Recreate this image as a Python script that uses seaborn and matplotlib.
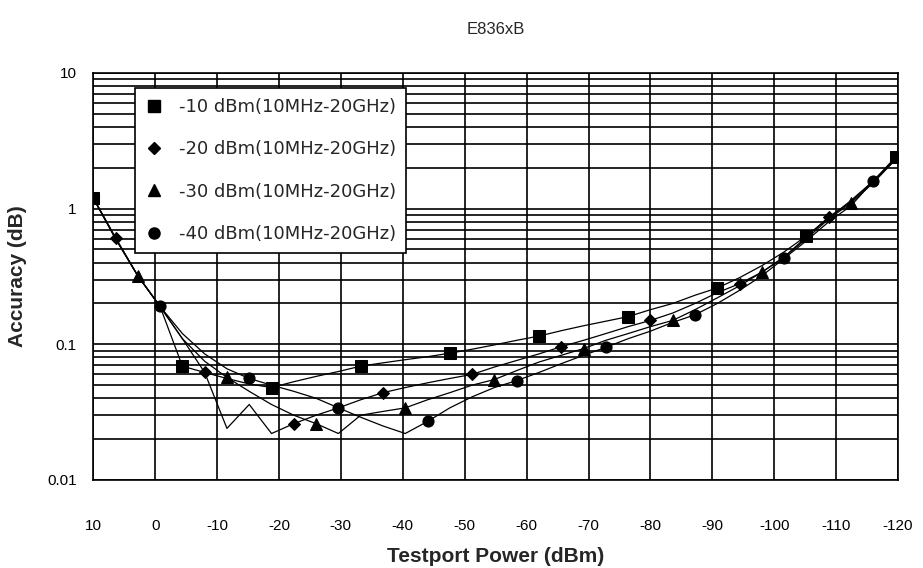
import matplotlib

matplotlib.use("Agg")

import matplotlib.pyplot as plt
import pandas as pd
import seaborn as sns
from matplotlib.lines import Line2D
from matplotlib.ticker import FixedLocator, LogLocator, NullFormatter

# testport power grid (dBm), 37 readings from +10 to -120
power = [10, 6.4, 2.8, -0.8, -4.4, -8, -11.6, -15.2, -18.8, -22.4, -26, -29.6,
         -33.2, -36.8, -40.4, -44, -47.6, -51.2, -54.8, -58.4, -62, -65.6,
         -69.2, -72.8, -76.4, -80, -83.6, -87.2, -90.8, -94.4, -98, -101.6,
         -105.2, -108.8, -112.4, -116, -119.6]

acc_m10 = [1.2, 0.6, 0.32, 0.19, 0.069, 0.062, 0.056, 0.051, 0.048, 0.053, 0.058, 0.063,
           0.069, 0.073, 0.077, 0.081, 0.086, 0.092, 0.099, 0.107, 0.115, 0.126,
           0.137, 0.148, 0.16, 0.18, 0.2, 0.23, 0.26, 0.31, 0.38, 0.48,
           0.63, 0.85, 1.15, 1.6, 2.4]
acc_m20 = [1.2, 0.61, 0.32, 0.19, 0.11, 0.062, 0.024, 0.036, 0.022, 0.026, 0.03, 0.034,
           0.039, 0.044, 0.048, 0.052, 0.056, 0.06, 0.068, 0.076, 0.085, 0.096,
           0.107, 0.12, 0.135, 0.15, 0.17, 0.2, 0.24, 0.28, 0.34, 0.44,
           0.62, 0.87, 1.12, 1.6, 2.35]
acc_m30 = [1.2, 0.61, 0.32, 0.19, 0.11, 0.075, 0.057, 0.045, 0.036, 0.03, 0.026, 0.022,
           0.03, 0.032, 0.034, 0.039, 0.044, 0.05, 0.055, 0.064, 0.074, 0.083,
           0.093, 0.107, 0.12, 0.135, 0.15, 0.18, 0.22, 0.27, 0.34, 0.44,
           0.6, 0.84, 1.1, 1.55, 2.3]
acc_m40 = [1.2, 0.6, 0.32, 0.19, 0.12, 0.085, 0.066, 0.056, 0.05, 0.045, 0.04, 0.034,
           0.029, 0.025, 0.022, 0.027, 0.034, 0.041, 0.048, 0.054, 0.062, 0.072,
           0.083, 0.095, 0.11, 0.125, 0.145, 0.165, 0.2, 0.25, 0.32, 0.43,
           0.58, 0.8, 1.05, 1.6, 2.3]

labels = ["-10 dBm(10MHz-20GHz)", "-20 dBm(10MHz-20GHz)",
          "-30 dBm(10MHz-20GHz)", "-40 dBm(10MHz-20GHz)"]
x_ticks = [10, 0, -10, -20, -30, -40, -50, -60, -70, -80, -90, -100, -110, -120]
y_ticks = [0.01, 0.1, 1, 10]
y_tick_labels = ["0.01", "0.1", "1", "10"]

sns.set_style("white")
plt.rcParams["font.family"] = ["Liberation Sans", "DejaVu Sans"]

series = [acc_m10, acc_m20, acc_m30, acc_m40]
markers = ["s", "D", "^", "o"]
msizes = [8, 6.5, 8, 8]

fig = plt.figure(figsize=(9.23, 5.68), dpi=100)
ax = fig.add_axes([0.101, 0.155, 0.872, 0.7165])

for k, (vals, lab) in enumerate(zip(series, labels)):
    df = pd.DataFrame({"power": power, "accuracy": vals})
    sns.lineplot(data=df, x="power", y="accuracy", ax=ax, color="black",
                 linewidth=0.9, marker=markers[k], markersize=msizes[k],
                 markeredgecolor="black", markerfacecolor="black",
                 markevery=(k, 4), sort=False, legend=False, zorder=3)

ax.set_yscale("log")
ax.set_xlim(10, -120)
ax.set_ylim(0.01, 10)

ax.xaxis.set_major_locator(FixedLocator(x_ticks))
ax.set_xticklabels([str(t) for t in x_ticks])
ax.yaxis.set_major_locator(FixedLocator(y_ticks))
ax.set_yticklabels(y_tick_labels)
ax.yaxis.set_minor_locator(LogLocator(base=10, subs=range(2, 10)))
ax.yaxis.set_minor_formatter(NullFormatter())

ax.grid(True, which="major", color="black", linewidth=1.2)
ax.grid(True, which="minor", axis="y", color="black", linewidth=1.2)
ax.tick_params(axis="both", which="both", length=0, labelsize=11, colors="black")
ax.tick_params(axis="x", pad=28)
ax.tick_params(axis="y", pad=12)
for sp in ax.spines.values():
    sp.set_color("black")
    sp.set_linewidth(1.2)

ax.set_xlabel("Testport Power (dBm)", fontsize=15, fontweight="bold", labelpad=10)
ax.set_ylabel("Accuracy (dB)", fontsize=15, fontweight="bold", labelpad=14)
ax.set_title("E836xB", fontsize=12, pad=28)

handles = [Line2D([], [], linestyle="none", marker=m, markersize=s,
                  color="black") for m, s in zip(markers, msizes)]
leg = ax.legend(handles, labels, loc="upper left", bbox_to_anchor=(0.052, 0.963),
                borderaxespad=0, prop={"family": "DejaVu Sans", "size": 13},
                frameon=True, fancybox=False, framealpha=1, edgecolor="black",
                labelspacing=1.35, handletextpad=0.9, borderpad=0.55,
                handlelength=1.0)
leg.get_frame().set_linewidth(1.2)
leg.set_zorder(5)

fig.savefig("out.png", dpi=100)
